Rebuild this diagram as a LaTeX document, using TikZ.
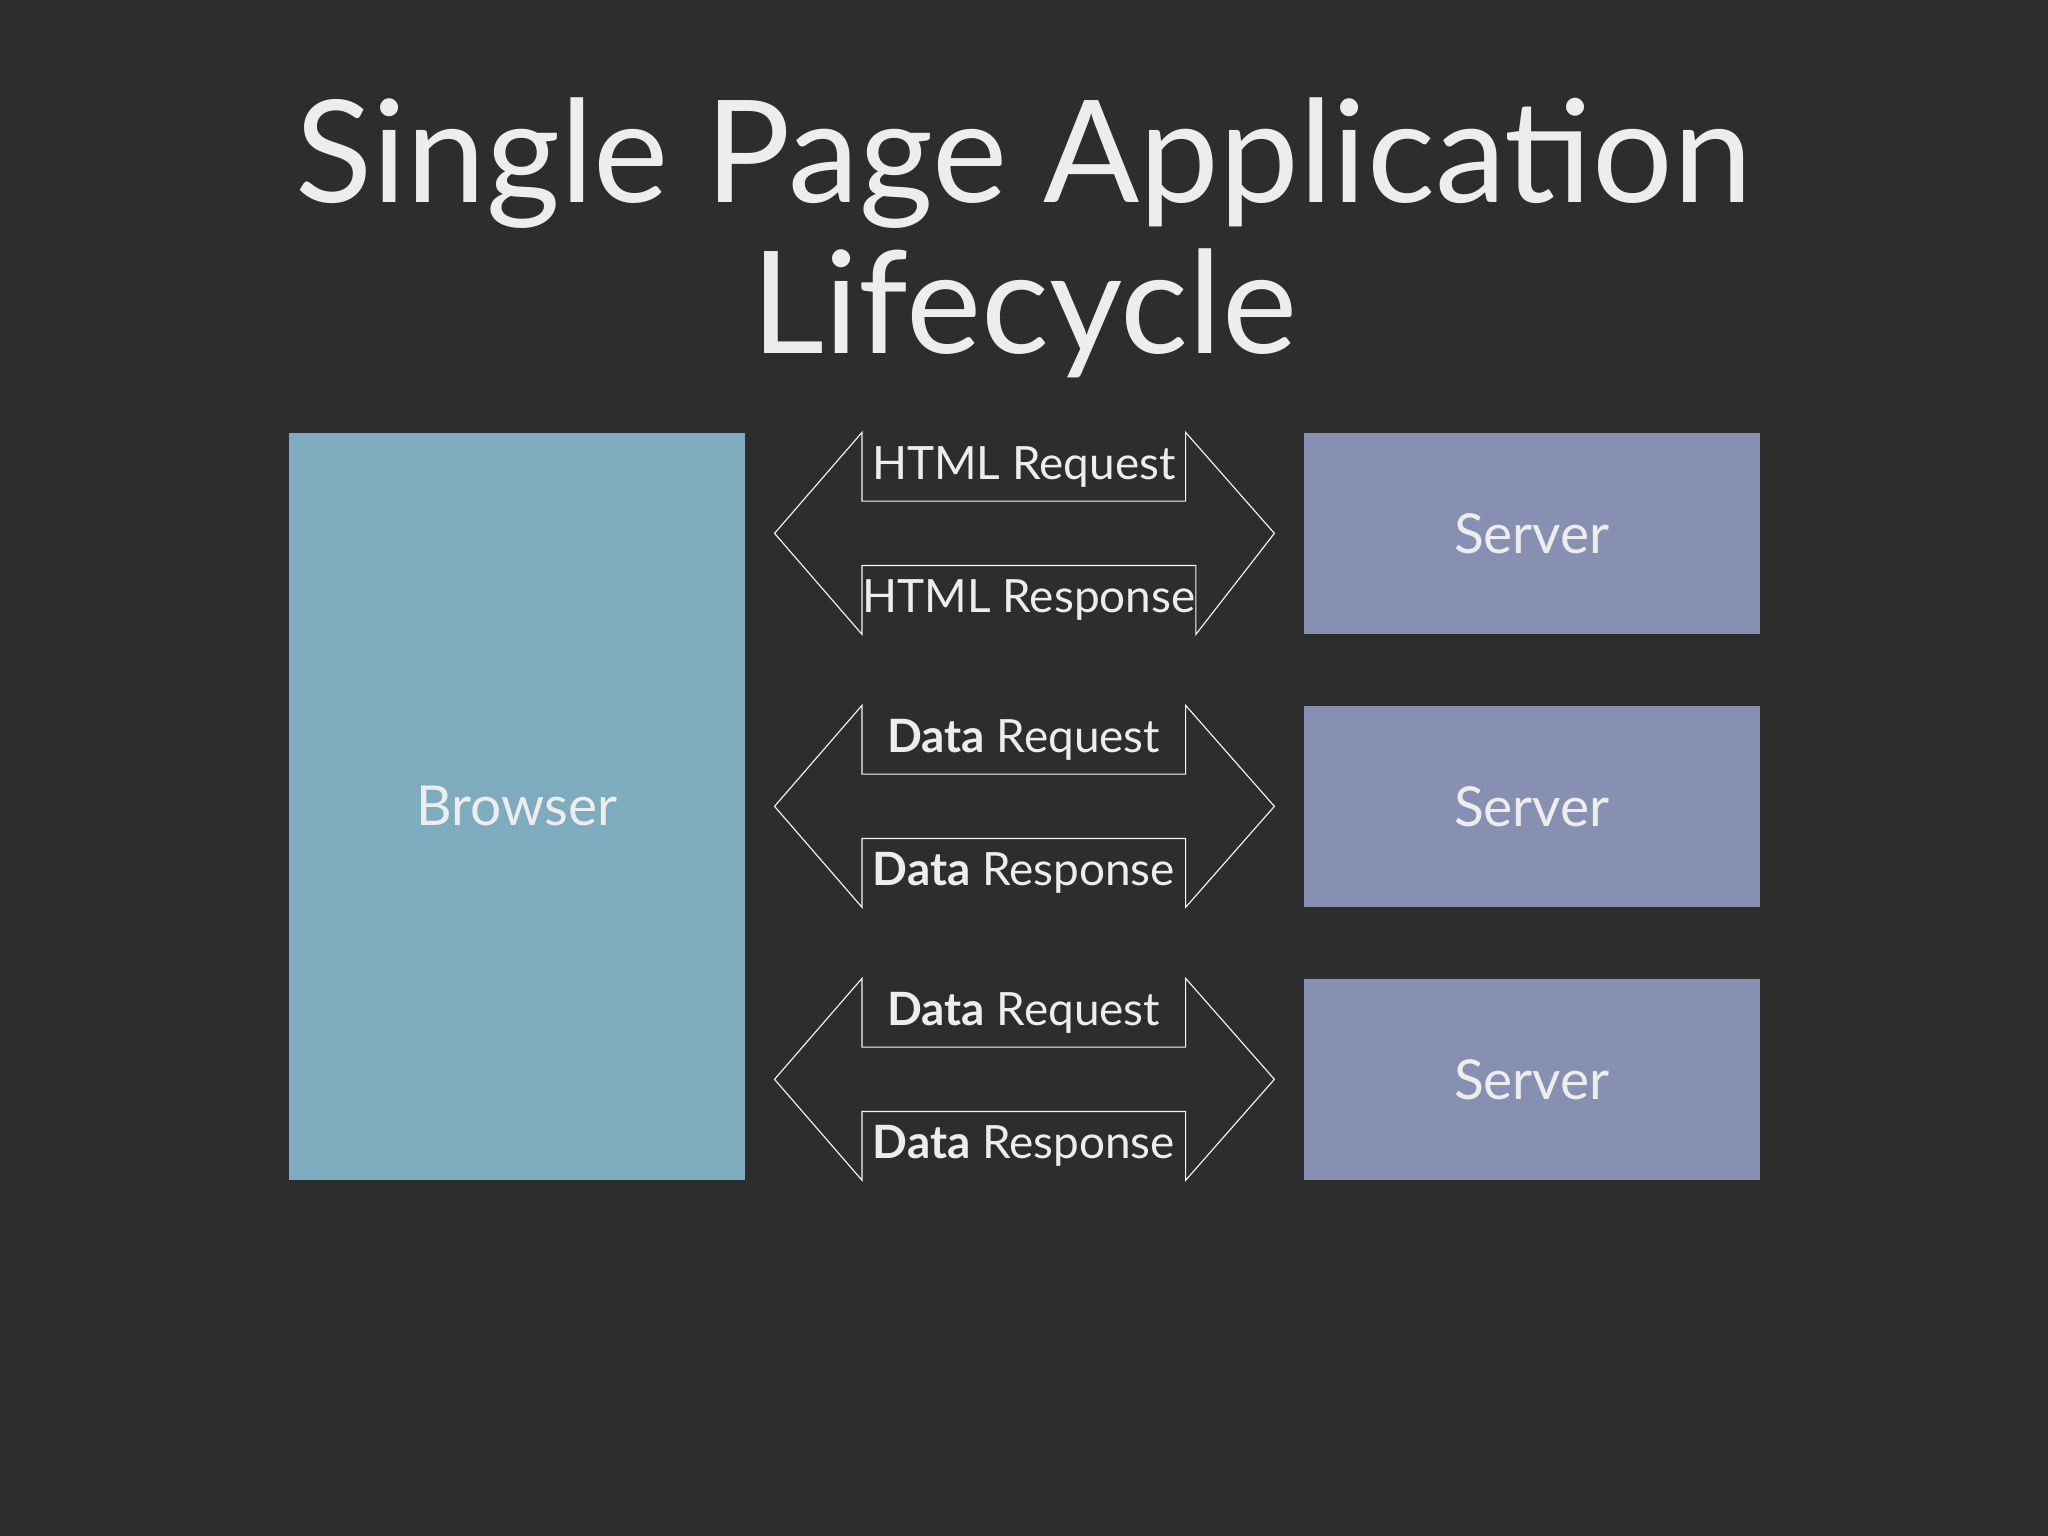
\documentclass[tikz,border=0pt]{standalone}
\usepackage{fontspec}
\setmainfont{Lato}
\definecolor{bgdark}{HTML}{2D2D2E}
\definecolor{browserblue}{HTML}{7FABBF}
\definecolor{serverviolet}{HTML}{8790B2}
\definecolor{textlight}{HTML}{EDEDED}
\tikzstyle{block} = [anchor=north west, inner sep=0pt, text=textlight, font=\fontsize{24}{28}\selectfont]
\tikzstyle{msg} = [anchor=north west, inner sep=0pt, minimum width=247*0.02cm, minimum height=52*0.02cm, text=textlight, font=\fontsize{20}{24}\selectfont]
\tikzstyle{outline} = [draw=textlight!55, line width=0.5pt]

\begin{document}
\begin{tikzpicture}[x=0.02cm, y=-0.02cm]
  \fill[bgdark] (0,0) rectangle (1568,1176);
  \useasboundingbox (0,0) rectangle (1568,1176);

  % Title
  \node[text=textlight, font=\fontsize{62}{70}\selectfont, align=center] (title) at (784,182)
    {Single Page Application\\[-4pt] Lifecycle};

  % The browser
  \node[block, fill=browserblue, minimum width=349*0.02cm, minimum height=572*0.02cm] (browser) at (221,331) {Browser};

  % Servers and the messages between
  \foreach \y/\kind/\n in {0/HTML/1, 209/\textbf{Data}/2, 418/\textbf{Data}/3} {
    \node[block, fill=serverviolet, minimum width=349*0.02cm, minimum height=154*0.02cm] (server\n) at (998,331+\y) {Server};
    \node[msg] (req\n) at (660,331+\y) {\kind{} Request};
    \node[msg] (resp\n) at (660,433+\y) {\kind{} Response};
    \path (req\n.north east |- server\n.west) ++(68,0) coordinate (tipR\n);
    \path (req\n.north west |- server\n.west) ++(-67,0) coordinate (tipL\n);
    \path[outline] (req\n.north west) -- (req\n.south west) -- (req\n.south east) -- (req\n.north east)
      -- (tipR\n) -- (resp\n.south east)
      -- (resp\n.north east) -- (resp\n.north west) -- (resp\n.south west)
      -- (tipL\n) -- cycle;
  }
\end{tikzpicture}
\end{document}
